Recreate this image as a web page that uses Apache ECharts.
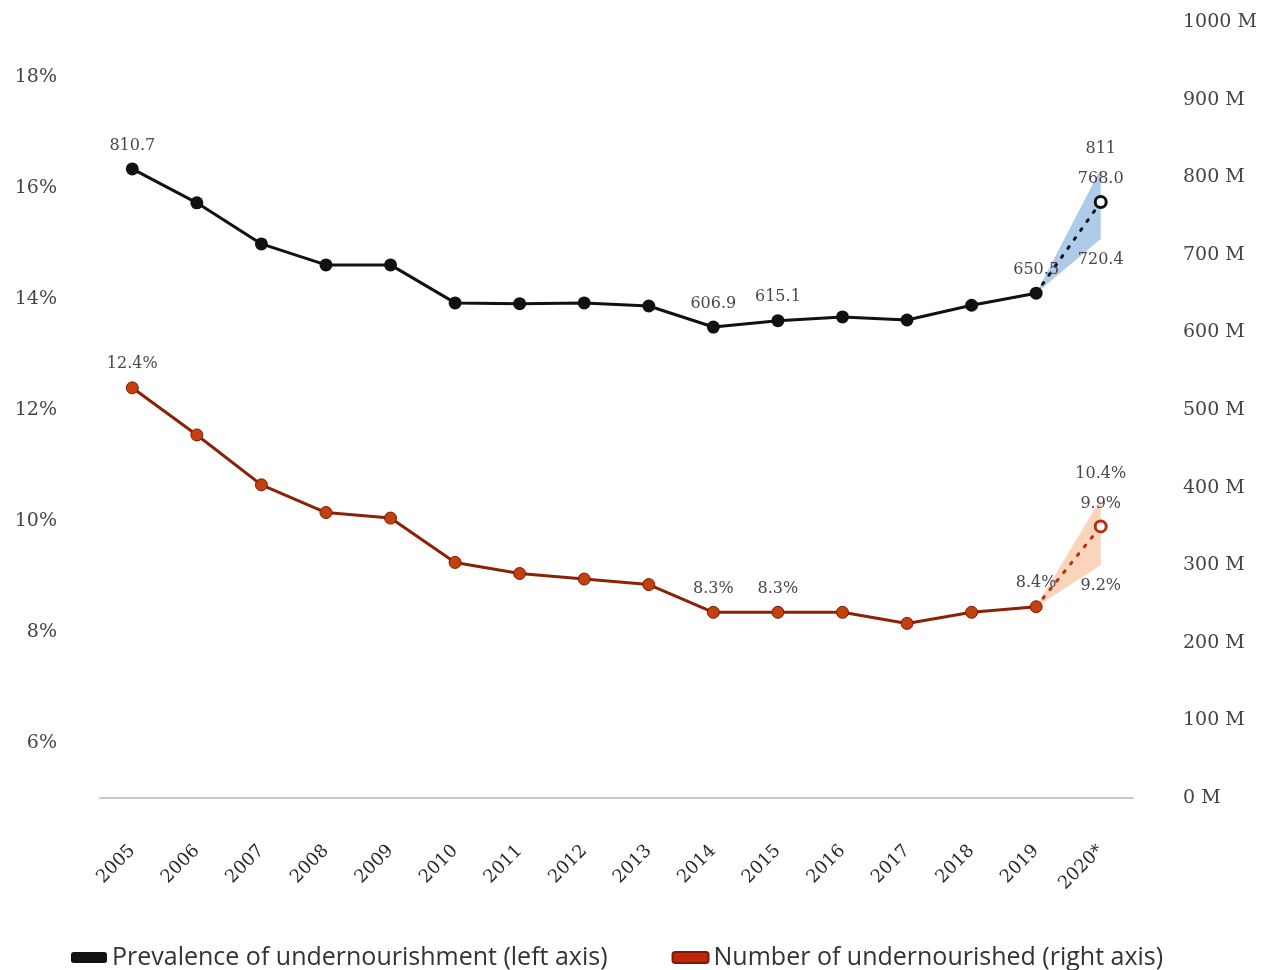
<!DOCTYPE html>
<html>
<head>
<meta charset="utf-8">
<script src="https://cdn.jsdelivr.net/npm/echarts@6/dist/echarts.min.js"></script>
<style>html,body{margin:0;padding:0;background:#fff;}#c{width:1273px;height:970px;}</style>
</head>
<body>
<div id="c"></div>
<script>
// ---- data ----
const years = ['2005','2006','2007','2008','2009','2010','2011','2012','2013','2014','2015','2016','2017','2018','2019','2020*'];
// black line (values in millions, plotted on right axis)
const numberMillions = [810.7, 767, 714, 687, 687, 638, 637, 638, 634, 606.9, 615.1, 620, 616, 635, 650.5];
const number2020 = 768.0, number2020Low = 720.4, number2020High = 811;
// red line (percent, plotted on left axis)
const prevalencePct = [12.4, 11.55, 10.65, 10.15, 10.05, 9.25, 9.05, 8.95, 8.85, 8.35, 8.35, 8.35, 8.15, 8.35, 8.45];
const prevalenceLabels = ['12.4%', '', '', '', '', '', '', '', '', '8.3%', '8.3%', '', '', '', '8.4%'];
const prevalence2020 = 9.9, prevalence2020Low = 9.2, prevalence2020High = 10.4;
const blackLabelIdx = [0, 9, 10, 14];
const legendNames = ['Prevalence of undernourishment (left axis)', 'Number of undernourished (right axis)'];

const N = years.length, last = N - 2;
const serif = 'DejaVu Serif';
const lblColor = '#4a4650';
const BLACK = '#111111', RED_LINE = '#8a2208', RED_PT = '#c2410c';

function mainData(arr, labelFor) {
  const d = arr.map((v, i) => {
    const t = labelFor(i);
    return t ? {value: v, label: {show: true, position: 'top', distance: 9, formatter: t}} : v;
  });
  d.push(null);
  return d;
}
function projData(v19, v20, lines) {
  const d = new Array(N).fill(null);
  d[last] = {value: v19, symbol: 'none'};
  d[N - 1] = {value: v20, label: {show: true, position: 'top', distance: 1, formatter: lines, lineHeight: 30}};
  return d;
}
function bandBase(v19, low, txt) {
  const d = new Array(N).fill(null);
  d[last] = v19;
  d[N - 1] = {value: low, label: {show: true, position: 'bottom', distance: 12, formatter: txt}};
  return d;
}
function bandDiff(low, high) {
  const d = new Array(N).fill(null);
  d[last] = 0;
  d[N - 1] = high - low;
  return d;
}

const labelStyle = {fontFamily: serif, fontSize: 16, color: lblColor};

const chart = echarts.init(document.getElementById('c'));
chart.setOption({
  animation: false,
  backgroundColor: '#fff',
  grid: {left: 100, right: 140, top: 22, bottom: 172},
  legend: {
    top: 940, left: 66, itemGap: 64, itemWidth: 36, itemHeight: 11,
    icon: 'roundRect',
    textStyle: {fontFamily: 'Open Sans', fontSize: 25, color: '#333'},
    data: [{name: legendNames[0], itemStyle: {color: BLACK}}, {name: legendNames[1], itemStyle: {color: '#c0260a'}}]
  },
  xAxis: {
    type: 'category', data: years, boundaryGap: true,
    axisLine: {onZero: false, lineStyle: {color: '#c8c8c8', width: 2}},
    axisTick: {show: false},
    axisLabel: {rotate: 45, margin: 50, fontFamily: serif, fontSize: 18, color: '#2a2a2a', interval: 0},
    splitLine: {show: false}
  },
  yAxis: [
    {type: 'value', position: 'left', min: 5, max: 19, interval: 1,
     axisLine: {show: false}, axisTick: {show: false}, splitLine: {show: false},
     axisLabel: {margin: 43, fontFamily: serif, fontSize: 19, color: '#444',
       formatter: v => (v % 2 === 0 ? v + '%' : '')}},
    {type: 'value', position: 'right', min: 0, max: 1000, interval: 100,
     axisLine: {show: false}, axisTick: {show: false}, splitLine: {show: false},
     axisLabel: {margin: 50, fontFamily: serif, fontSize: 19, color: '#444',
       formatter: v => v + ' M'}}
  ],
  series: [
    // bands (drawn first)
    {type: 'line', yAxisIndex: 1, stack: 'bb', data: bandBase(numberMillions[last], number2020Low, String(number2020Low)),
     symbol: 'circle', symbolSize: 1, itemStyle: {color: 'rgba(0,0,0,0)'}, lineStyle: {opacity: 0}, label: labelStyle, z: 1, silent: true},
    {type: 'line', yAxisIndex: 1, stack: 'bb', data: bandDiff(number2020Low, number2020High),
     symbol: 'none', lineStyle: {opacity: 0}, areaStyle: {color: 'rgba(120,170,220,0.6)', opacity: 1}, z: 1, silent: true},
    {type: 'line', yAxisIndex: 0, stack: 'rb', data: bandBase(prevalencePct[last], prevalence2020Low, prevalence2020Low + '%'),
     symbol: 'circle', symbolSize: 1, itemStyle: {color: 'rgba(0,0,0,0)'}, lineStyle: {opacity: 0}, label: labelStyle, z: 1, silent: true},
    {type: 'line', yAxisIndex: 0, stack: 'rb', data: bandDiff(prevalence2020Low, prevalence2020High),
     symbol: 'none', lineStyle: {opacity: 0}, areaStyle: {color: 'rgba(248,190,150,0.65)', opacity: 1}, z: 1, silent: true},
    // projections (dotted)
    {type: 'line', yAxisIndex: 1,
     data: projData(numberMillions[last], number2020, number2020High + '\n' + number2020.toFixed(1)),
     symbol: 'circle', symbolSize: 11, showAllSymbol: true,
     itemStyle: {color: '#fff', borderColor: BLACK, borderWidth: 3},
     lineStyle: {color: BLACK, width: 3, type: [2, 9], cap: 'round'}, label: labelStyle, z: 3},
    {type: 'line', yAxisIndex: 0,
     data: projData(prevalencePct[last], prevalence2020, prevalence2020High + '%\n' + prevalence2020 + '%'),
     symbol: 'circle', symbolSize: 11, showAllSymbol: true,
     itemStyle: {color: '#fff', borderColor: '#b5300c', borderWidth: 3},
     lineStyle: {color: '#b5300c', width: 3, type: [2, 9], cap: 'round'}, label: labelStyle, z: 3},
    // main lines
    {name: legendNames[0], type: 'line', yAxisIndex: 1,
     data: mainData(numberMillions, i => blackLabelIdx.includes(i) ? String(numberMillions[i]) : ''),
     symbol: 'circle', symbolSize: 13, showAllSymbol: true,
     itemStyle: {color: BLACK}, lineStyle: {color: BLACK, width: 3}, label: labelStyle, z: 4},
    {name: legendNames[1], type: 'line', yAxisIndex: 0,
     data: mainData(prevalencePct, i => prevalenceLabels[i]),
     symbol: 'circle', symbolSize: 12, showAllSymbol: true,
     itemStyle: {color: RED_PT, borderColor: '#7a1a05', borderWidth: 1},
     lineStyle: {color: RED_LINE, width: 3}, label: labelStyle, z: 4}
  ]
});
</script>
</body>
</html>
